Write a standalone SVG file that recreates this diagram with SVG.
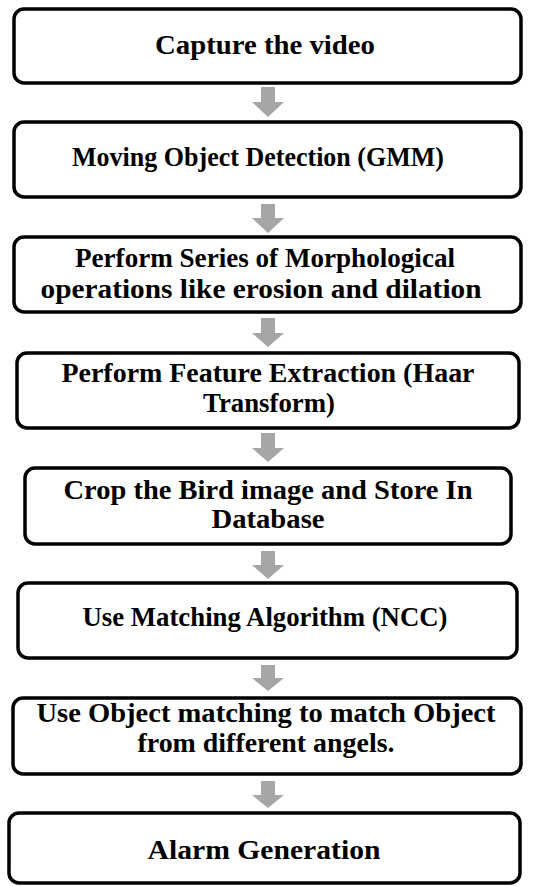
<svg xmlns="http://www.w3.org/2000/svg" width="542" height="886" viewBox="0 0 542 886">
  <style>
    .box { fill: #ffffff; stroke: #000000; stroke-width: 3.5; }
    .lbl { font-family: "Liberation Serif", "Times New Roman", serif; font-weight: bold; font-size: 28px; fill: #000000; text-anchor: middle; }
    .arrow { fill: #a6a6a6; stroke: none; }
  </style>
  <rect width="542" height="886" fill="#ffffff"/>

  <!-- connectors: block arrows between steps -->
  <g id="connectors">
    <path class="arrow" d="M261,87 H275 V102 H284 L268,117 L252,102 H261 Z"/>
    <path class="arrow" d="M261,204 H275 V218 H284 L268,233 L252,218 H261 Z"/>
    <path class="arrow" d="M261,318 H275 V333 H284 L268,347 L252,333 H261 Z"/>
    <path class="arrow" d="M261,433 H275 V448 H284 L268,462 L252,448 H261 Z"/>
    <path class="arrow" d="M261,551 H275 V565 H284 L268,579 L252,565 H261 Z"/>
    <path class="arrow" d="M261,665 H275 V678 H284 L268,691 L252,678 H261 Z"/>
    <path class="arrow" d="M261,781 H275 V795 H284 L268,808 L252,795 H261 Z"/>
  </g>

  <g id="capture">
    <rect class="box" x="14" y="9" width="507" height="74" rx="10"/>
    <text class="lbl" x="265" y="54" textLength="220" lengthAdjust="spacingAndGlyphs">Capture the video</text>
  </g>

  <g id="detection">
    <rect class="box" x="14" y="122" width="507" height="75" rx="10"/>
    <text class="lbl" x="258" y="166" textLength="372" lengthAdjust="spacingAndGlyphs">Moving Object Detection (GMM)</text>
  </g>

  <g id="morphology">
    <rect class="box" x="14" y="237" width="507" height="75" rx="10"/>
    <text class="lbl" x="265" y="267" textLength="380" lengthAdjust="spacingAndGlyphs">Perform Series of Morphological</text>
    <text class="lbl" x="261" y="298" textLength="441" lengthAdjust="spacingAndGlyphs">operations like erosion and dilation</text>
  </g>

  <g id="features">
    <rect class="box" x="17" y="353" width="502" height="75" rx="10"/>
    <text class="lbl" x="268" y="382" textLength="413" lengthAdjust="spacingAndGlyphs">Perform Feature Extraction (Haar</text>
    <text class="lbl" x="269" y="412" textLength="132" lengthAdjust="spacingAndGlyphs">Transform)</text>
  </g>

  <g id="crop">
    <rect class="box" x="25" y="468" width="486" height="76" rx="10"/>
    <text class="lbl" x="268" y="499" textLength="409" lengthAdjust="spacingAndGlyphs">Crop the Bird image and Store  In</text>
    <text class="lbl" x="268" y="528" textLength="113" lengthAdjust="spacingAndGlyphs">Database</text>
  </g>

  <g id="ncc">
    <rect class="box" x="18" y="583" width="499" height="75" rx="10"/>
    <text class="lbl" x="265" y="626" textLength="365" lengthAdjust="spacingAndGlyphs">Use Matching Algorithm (NCC)</text>
  </g>

  <g id="angles">
    <rect class="box" x="13" y="698" width="508" height="76" rx="10"/>
    <text class="lbl" x="266" y="722" textLength="459" lengthAdjust="spacingAndGlyphs">Use Object matching to match Object</text>
    <text class="lbl" x="266" y="752" textLength="257" lengthAdjust="spacingAndGlyphs">from different angels.</text>
  </g>

  <g id="alarm">
    <rect class="box" x="9" y="813" width="511" height="70" rx="10"/>
    <text class="lbl" x="264" y="859" textLength="233" lengthAdjust="spacingAndGlyphs">Alarm Generation</text>
  </g>
</svg>
